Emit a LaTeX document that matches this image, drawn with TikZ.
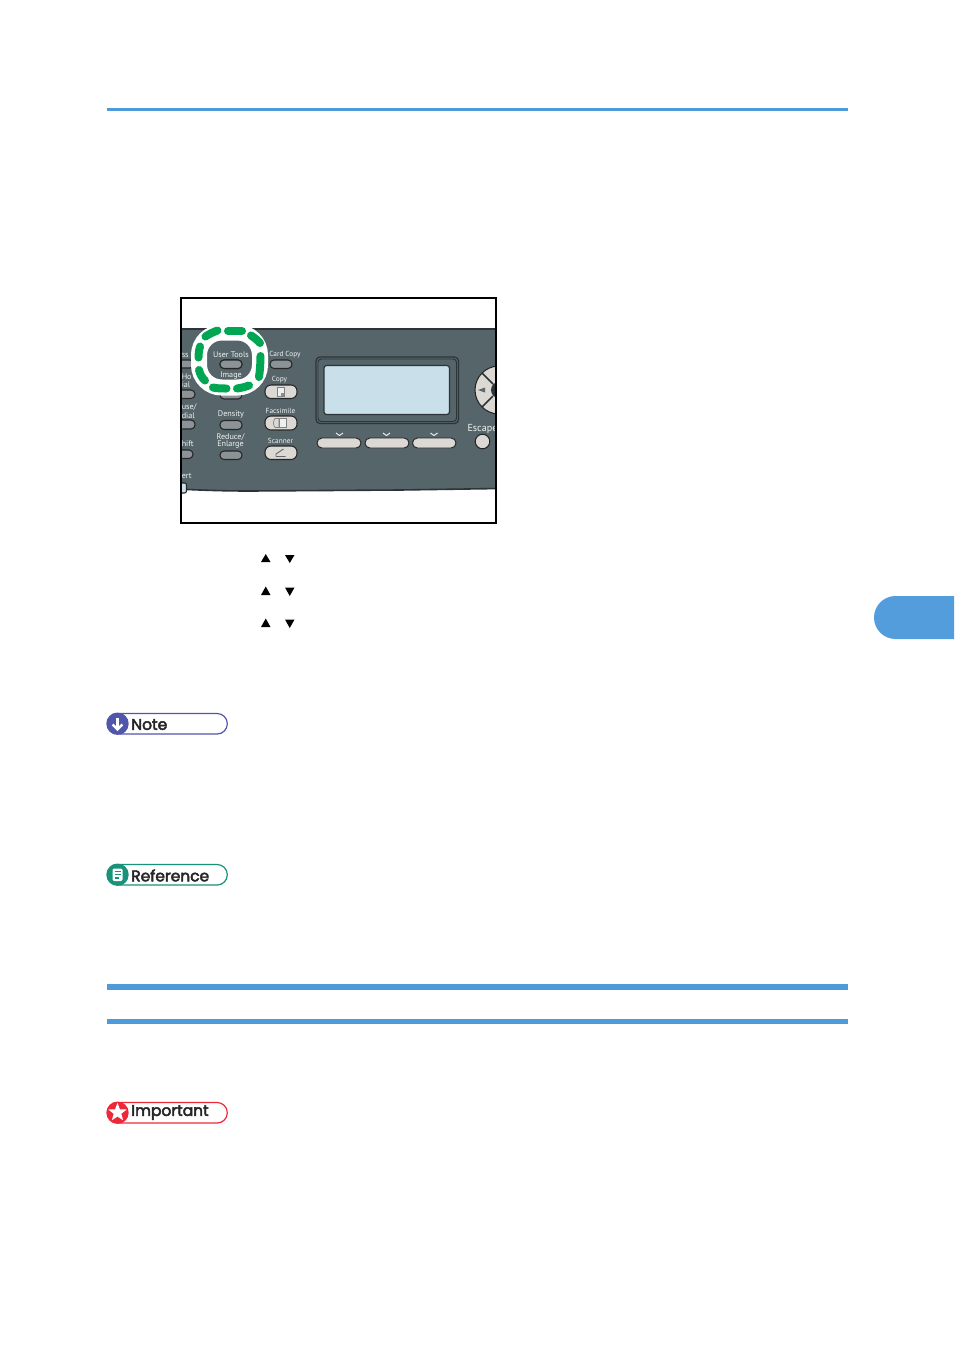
\documentclass[tikz,border=0pt]{standalone}
\usepackage{fontspec}
\usetikzlibrary{shapes}
\newfontfamily\panelfont{PT Sans}
\newfontfamily\badgefont[FakeBold=3]{Poppins}
\definecolor{rulecolor}{RGB}{79,154,216}
\definecolor{tabcolor}{RGB}{84,157,220}
\definecolor{panelcolor}{RGB}{85,101,106}
\definecolor{paneledge}{RGB}{45,52,55}
\definecolor{lightkey}{RGB}{220,216,211}
\definecolor{darkkey}{RGB}{139,147,150}
\definecolor{lcdcolor}{RGB}{201,224,234}
\definecolor{ringgreen}{RGB}{0,166,81}
\definecolor{notecolor}{RGB}{80,87,170}
\definecolor{refcolor}{RGB}{24,146,120}
\definecolor{impcolor}{RGB}{237,41,57}
\tikzset{
  panellabel/.style={text=white!92!panelcolor,font=\panelfont\fontsize{6.1}{6.1}\selectfont,inner sep=0pt,align=center},
  narrowlabel/.style={panellabel,font=\panelfont\fontsize{5.5}{5.5}\selectfont},
  darkkeybox/.style={draw=black!85,fill=darkkey,line width=0.8pt,rounded corners=3pt},
  lightkeybox/.style={draw=black!85,fill=lightkey,line width=0.8pt,rounded corners=4.5pt},
  softkeybox/.style={draw=black!85,fill=lightkey,line width=0.7pt,rounded corners=3.7pt},
  greendash/.style={draw=ringgreen,line width=6pt,line cap=round},
  badgebox/.style={line width=0.9pt,fill=white,rounded corners=7.6pt},
  badgetext/.style={font=\badgefont\fontsize{11.6}{11.6}\selectfont,text=black!85,inner sep=0pt,anchor=west},
  triangle/.style={fill=black,draw=none}
}
\begin{document}
\begin{tikzpicture}[x=0.75pt,y=0.75pt,yscale=-1,xscale=1]
%page
\fill [white,use as bounding box] (0,0) rectangle (954,1353);

%Top rule
\fill [rulecolor] (106.5,108) rectangle (848,110.7);
%Chapter tab
\fill [tabcolor] (954,596) -- (895.5,596) .. controls (883.6,596) and (874,605.6) .. (874,617.5) .. controls (874,629.4) and (883.6,639) .. (895.5,639) -- (954,639) -- cycle;

%Panel
\begin{scope}
\clip (181,298) rectangle (496,523);
\fill [panelcolor] (175,329) -- (500,329) -- (500,488.5) -- (400,490) -- (250,491) .. controls (220,491) and (200,490) .. (175,489) -- cycle;
\draw [paneledge,line width=1pt] (175,329) -- (500,329);
\draw [paneledge,line width=1.2pt] (175,489) .. controls (200,490) and (220,491) .. (250,491) -- (400,490) -- (500,488.5);

%Left column keys
\draw [darkkeybox] (170,360) rectangle (194,368);
\draw [darkkeybox] (170,390) rectangle (195,398.5);
\draw [darkkeybox] (170,420) rectangle (195,429);
\draw [darkkeybox] (170,450) rectangle (193,458.5);
\draw [draw=black!85,fill=lcdcolor,line width=0.8pt,rounded corners=1.5pt] (178,483) rectangle (186.5,493);

%Nav wheel
\fill [lightkey,draw=black!85,line width=0.8pt] (499,390) circle [radius=24];
\fill [paneledge] (499,390) circle [radius=8];
\draw [paneledge,line width=1.2pt] (482,373) -- (493,384) (482,407) -- (493,396);
\fill [darkkey!70!black] (478,390) -- (485,387.5) -- (485,392.5) -- cycle;
\end{scope}

%Middle column keys
\draw [darkkeybox] (220,360) rectangle (242,368.5);
\draw [darkkeybox] (220,390) rectangle (242,399);
\draw [darkkeybox] (220,420.5) rectangle (242,429.5);
\draw [darkkeybox] (220,451) rectangle (242,459.5);

%Right column keys
\draw [darkkeybox] (270,360) rectangle (292,368.5);
\draw [lightkeybox] (265,385) rectangle (297,398.5);
\draw [lightkeybox] (265,416) rectangle (297,430);
\draw [lightkeybox] (265,446) rectangle (297,459.5);
%key icons
\draw [black!50,fill=white!85!darkkey,line width=0.5pt] (277,387.8) rectangle (284,396);
\fill [black!45] (281,393) rectangle (284,396);
\draw [black!50,line width=0.5pt] (275,418.5) .. controls (273,421) and (273,425) .. (275,427.5) -- (279,427.5) -- (279,418.5) -- cycle;
\draw [black!50,fill=white!85!darkkey,line width=0.5pt] (279,418.5) rectangle (286,427.5);
\draw [black!60,line width=0.7pt] (276,456.5) -- (285.5,456.5) (276,456.5) -- (276,454) -- (283.5,449);

%LCD
\draw [paneledge,line width=0.9pt,rounded corners=3pt] (316,357) rectangle (458.5,423.5);
\draw [paneledge,line width=0.7pt,rounded corners=2.5pt] (318,359) rectangle (456.5,421.5);
\draw [paneledge,fill=lcdcolor,line width=0.9pt,rounded corners=2pt] (324,365.5) rectangle (449.5,414.5);

%Soft keys
\draw [softkeybox] (317,438) rectangle (361,448);
\draw [softkeybox] (365,438) rectangle (409,448);
\draw [softkeybox] (412.5,438) rectangle (456,448);
\draw [white!92!panelcolor,line width=0.7pt] (336,433) -- (339.5,435.5) -- (343,433);
\draw [white!92!panelcolor,line width=0.7pt] (383,433) -- (386.5,435.5) -- (390,433);
\draw [white!92!panelcolor,line width=0.7pt] (430.5,433) -- (434,435.5) -- (437.5,433);
%Escape key
\draw [black!85,fill=lightkey,line width=0.8pt] (482.5,441.5) circle [radius=7.3];

%Panel labels
\node [panellabel,anchor=west] (lblAddress) at (181.5,354.7) {ss B};
\node [panellabel,anchor=west] (lblHold) at (181.5,377) {Ho};
\node [panellabel,anchor=west] (lblDial) at (181.5,385) {ial};
\node [panellabel,anchor=west] (lblPause) at (181.5,407.5) {use/};
\node [panellabel,anchor=west] (lblTone) at (181.5,416) {dial};
\node [panellabel,anchor=west] (lblShift) at (181.5,444) {hift};
\node [panellabel,anchor=west] (lblAlert) at (181.5,476.5) {ert};
\node [panellabel] (lblDensity) at (231,414) {Density};
\node [panellabel] (lblReduce) at (230.5,437) {Reduce/};
\node [panellabel] (lblEnlarge) at (230.5,444.5) {Enlarge};
\node [narrowlabel] (lblCardCopy) at (285,354.7) {Card Copy};
\node [narrowlabel] (lblCopy) at (279.5,379.7) {Copy};
\node [narrowlabel] (lblFacsimile) at (280.5,410.7) {Facsimile};
\node [narrowlabel] (lblScanner) at (280.5,441) {Scanner};
\node [panellabel,font=\panelfont\fontsize{7.6}{7.6}\selectfont] (lblEscape) at (482.5,428.5) {Escape};

%Highlight ring
\draw [white,line width=12pt,rounded corners=17pt] (199,332.5) rectangle (260,387.5);
\path [greendash] (205.5,336.5) .. controls (209,334) and (213.5,332) .. (217.5,330.5);
\path [greendash] (228,331) -- (242,331);
\path [greendash] (251,335.5) .. controls (254,337.5) and (257.5,340) .. (260,343);
\path [greendash] (260.5,356) .. controls (260.5,362) and (260,371) .. (259,377);
\path [greendash] (249,385.5) .. controls (245,387) and (240.5,388) .. (237,388.5);
\path [greendash] (213,387.5) .. controls (217,388.5) and (222,388.5) .. (226.5,388.5);
\path [greendash] (199,370) .. controls (200,374) and (202,378) .. (205,380.5);
\path [greendash] (200,346.5) .. controls (199,350) and (198.5,354) .. (198.5,357.5);
\node [panellabel] (lblUserTools) at (231,354.7) {User Tools};
\node [panellabel] (lblImage) at (231,375.7) {Image};
\draw [darkkeybox] (220,360) rectangle (242,368.5);

%Frame
\draw [black,line width=1.6pt] (181,298) rectangle (496,523);

%Selection triangles
\fill [triangle] (261,562) -- (270.5,562) -- (265.75,554) -- cycle;
\fill [triangle] (285,555) -- (294.5,555) -- (289.75,563) -- cycle;
\fill [triangle] (261,595) -- (270.5,595) -- (265.75,586.5) -- cycle;
\fill [triangle] (285,587.5) -- (294.5,587.5) -- (289.75,596) -- cycle;
\fill [triangle] (261,627) -- (270.5,627) -- (265.75,618.5) -- cycle;
\fill [triangle] (285,619.5) -- (294.5,619.5) -- (289.75,628) -- cycle;

%Note badge
\draw [notecolor,badgebox] (110,713.5) rectangle (227.3,734);
\fill [notecolor] (117.5,723.7) circle [radius=11.2];
\draw [white,line width=1.8pt] (117.5,717.5) -- (117.5,729);
\draw [white,line width=1.8pt] (112.7,724.5) -- (117.5,729.5) -- (122.3,724.5);
\node [badgetext] (noteText) at (131,724.5) {Note};

%Reference badge
\draw [refcolor,badgebox] (110,864.5) rectangle (227.3,885);
\fill [refcolor] (117.5,874.7) circle [radius=11.2];
\fill [white,rounded corners=1pt] (112.5,868.5) rectangle (122.5,881);
\draw [refcolor,line width=0.9pt] (114.5,871.5) -- (120.5,871.5) (114.5,874.7) -- (120.5,874.7) (114.5,877.9) -- (118.5,877.9);
\node [badgetext] (refText) at (131,875.5) {Reference};

%Section rules
\fill [rulecolor] (106.5,984) rectangle (848,990);
\fill [rulecolor] (106.5,1019) rectangle (848,1024);

%Important badge
\draw [impcolor,badgebox] (110,1102.5) rectangle (227.3,1123);
\fill [impcolor] (117.5,1112.7) circle [radius=11.2];
\node [star,star points=5,star point ratio=2.4,fill=white,inner sep=0pt,minimum size=14.5pt] (impStar) at (117.5,1112.5) {};
\node [badgetext] (impText) at (131,1112.5) {Important};
\end{tikzpicture}
\end{document}
